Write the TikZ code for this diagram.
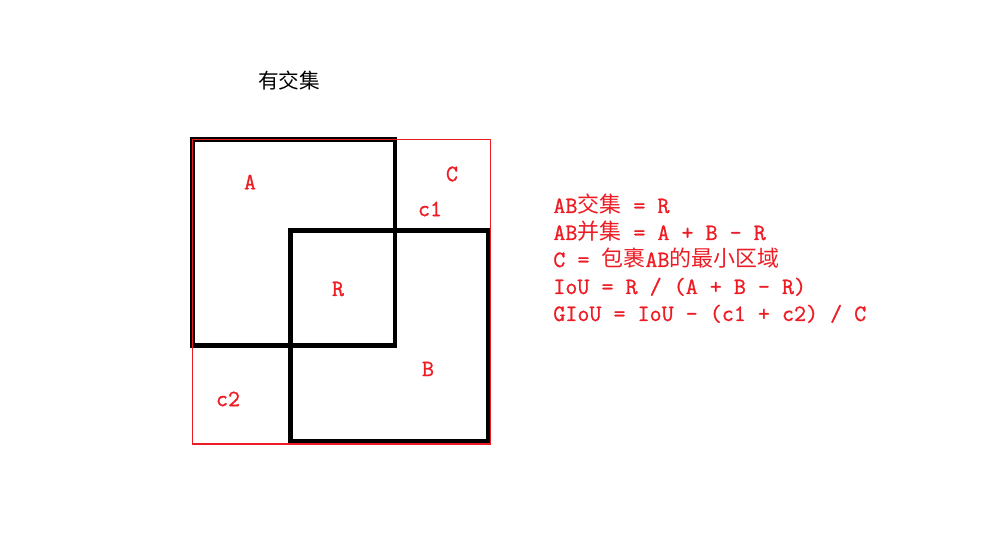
\documentclass[tikz,border=0pt]{standalone}
\usepackage{fontspec}
\newfontfamily\mono[FakeBold=1]{Latin Modern Mono}
\newfontfamily\cjk[Scale=0.94]{Noto Sans CJK SC}
\usetikzlibrary{positioning}
\definecolor{paintred}{RGB}{237,28,36}

\begin{document}
\begin{tikzpicture}[x=0.02cm,y=0.02cm]
\useasboundingbox (0,0) rectangle (1000,553);
\tikzset{
  box/.style={line width=2.7pt},
  hull/.style={draw=paintred,line width=0.6pt},
  lbl/.style={text=paintred,font=\mono\fontsize{13.3}{15}\selectfont,inner sep=0pt},
  rule/.style={lbl,anchor=base west}
}

% Title
\node[font=\cjk\fontsize{12.5}{14}\selectfont] (title) at (289,472) {有交集};

% Boxes A and B
\draw[box] (192.5,413.5) rectangle (395,207.5);
\draw[box] (290.5,322.5) rectangle (488.5,111.5);

% Smallest enclosing box C
\draw[hull] (192.3,413.7) rectangle (490.7,109);

% Labels
\node[lbl] (lA) at (250,371) {A};
\node[lbl] (lC) at (452,379) {C};
\node[lbl] (lc1) at (430,344) {c1};
\node[lbl] (lR) at (338,264) {R};
\node[lbl] (lB) at (428,184) {B};
\node[lbl] (lc2) at (228,154) {c2};

% Formulas to the right of the diagram
\node[rule] (r1) at (553,340) {AB{\cjk 交集} = R};
\node[rule] (r2) at (553,313) {AB{\cjk 并集} = A + B - R};
\node[rule] (r3) at (553,286) {C = {\cjk 包裹}AB{\cjk 的最小区域}};
\node[rule] (r4) at (553,259) {IoU = R / (A + B - R)};
\node[rule] (r5) at (553,232) {GIoU = IoU - (c1 + c2) / C};
\end{tikzpicture}
\end{document}
